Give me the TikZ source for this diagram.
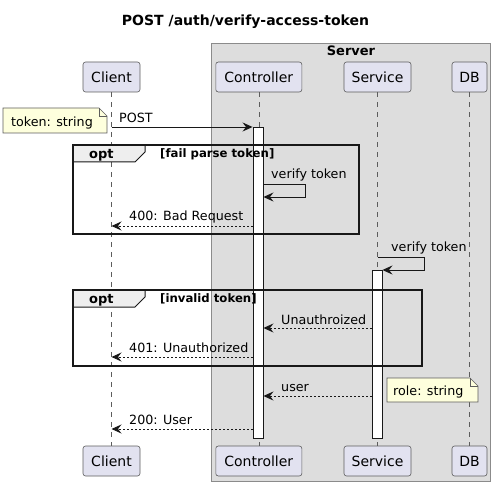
\documentclass[tikz,border=0pt]{standalone}
\usepackage{fontspec}
\setmainfont{DejaVu Sans}
\usetikzlibrary{arrows.meta}
\definecolor{partfill}{HTML}{E2E2F0}
\definecolor{notefill}{HTML}{FEFFDD}
\definecolor{boxfill}{HTML}{DDDDDD}
\definecolor{tabfill}{HTML}{EEEEEE}
\definecolor{ink}{HTML}{181818}
\begin{document}
\begin{tikzpicture}[x=1pt,y=-1pt,
 part/.style={draw=ink!70, fill=partfill, rounded corners=2.5pt, line width=0.6pt, minimum height=30pt, inner sep=0pt, font=\fontsize{14}{16}\selectfont},
 life/.style={draw=ink!70, line width=0.6pt, dash pattern=on 5pt off 5pt},
 act/.style={draw=ink, fill=white, line width=0.9pt, minimum width=10pt, inner sep=0pt, anchor=north},
 msg/.style={draw=ink, line width=0.9pt, -{Stealth[length=10pt,width=9pt,inset=3.5pt]}},
 ret/.style={msg, dash pattern=on 2pt off 2pt},
 lbl/.style={anchor=base west, inner sep=0pt, font=\fontsize{12.7}{15}\selectfont},
 frame/.style={draw=ink, line width=1.5pt},
 ftab/.style={draw=ink, fill=tabfill, line width=1pt},
 ftitle/.style={anchor=base west, inner sep=0pt, font=\bfseries\fontsize{13}{15}\selectfont},
 fcond/.style={anchor=base west, inner sep=0pt, font=\bfseries\fontsize{11.7}{13}\selectfont},
 notebox/.style={draw=ink!70, fill=notefill, line width=0.6pt}
]
\useasboundingbox (0,0) rectangle (495,486);
% title
\node[font=\bfseries\fontsize{14}{16}\selectfont] (title) at (245.5,22) {POST /auth/verify-access-token};
% server box
\draw[fill=boxfill, draw=ink!50, line width=0.6pt] (211.5,43.5) rectangle (490.5,481);
\node[font=\bfseries\fontsize{13}{15}\selectfont, anchor=base] (srv) at (351,56) {Server};
% participants
\node[part, minimum width=57pt] (pC) at (111.5,77) {Client};
\node[part, minimum width=86pt] (pCtl) at (258.8,77) {Controller};
\node[part, minimum width=67pt] (pS) at (377.5,77) {Service};
\node[part, minimum width=35pt] (pD) at (469.5,77) {DB};
\node[part, minimum width=57pt] (bC) at (111.5,461) {Client};
\node[part, minimum width=86pt] (bCtl) at (258.8,461) {Controller};
\node[part, minimum width=67pt] (bS) at (377.5,461) {Service};
\node[part, minimum width=35pt] (bD) at (469.5,461) {DB};
% lifelines
\draw[life] (pC.south) -- (bC.north);
\draw[life] (pCtl.south) -- (bCtl.north);
\draw[life] (pS.south) -- (bS.north);
\draw[life] (pD.south) -- (bD.north);
% activations
\node[act, minimum height=311pt] (aCtl) at (258,127) {};
\node[act, minimum height=168pt] (aS) at (377,270) {};
% frames
\draw[ftab] (73,145) -- (145,145) -- (145,152) -- (135,162) -- (73,162) -- cycle;
\draw[frame] (73,145) rectangle (359,234);
\node[ftitle] (f1t) at (89,159) {opt};
\node[fcond] (f1c) at (160,158) {[fail parse token]};
\draw[ftab] (73,290) -- (145,290) -- (145,297) -- (135,307) -- (73,307) -- cycle;
\draw[frame] (73,290) rectangle (422,366);
\node[ftitle] (f2t) at (89,303) {opt};
\node[fcond] (f2c) at (160,302.5) {[invalid token]};
% notes
\draw[notebox] (3,108) -- (99,108) -- (107,116) -- (107,133) -- (3,133) -- cycle;
\draw[draw=ink!70, line width=0.6pt] (99,108) -- (99,116) -- (107,116);
\node[lbl] (nTok) at (11,127) {token: string};
\draw[notebox] (387,378) -- (470,378) -- (478,386) -- (478,402) -- (387,402) -- cycle;
\draw[draw=ink!70, line width=0.6pt] (470,378) -- (470,386) -- (478,386);
\node[lbl] (nRole) at (393,395) {role: string};
% messages
\draw[msg] (pC |- 0,127) -- (aCtl.west |- 0,127);
\node[lbl] (l1) at (119,123) {POST};
\coordinate (s1) at (305,184);
\draw[msg] (aCtl.east |- 0,184) -- (s1) -- (s1 |- 0,197) -- (aCtl.east |- 0,197);
\node[lbl] (l2) at (271,179) {verify token};
\draw[ret] (aCtl.west |- 0,226) -- (pC |- 0,226);
\node[lbl] (l3) at (129,221) {400: Bad Request};
\coordinate (s2) at (424,257);
\draw[msg] (pS |- 0,257) -- (s2) -- (s2 |- 0,270) -- (aS.east |- 0,270);
\node[lbl] (l4) at (391,251.5) {verify token};
\draw[ret] (aS.west |- 0,328) -- (aCtl.east |- 0,328);
\node[lbl] (l5) at (281,324) {Unauthroized};
\draw[ret] (aCtl.west |- 0,357) -- (pC |- 0,357);
\node[lbl] (l6) at (129,352.5) {401: Unauthorized};
\draw[ret] (aS.west |- 0,396) -- (aCtl.east |- 0,396);
\node[lbl] (l7) at (281,391.5) {user};
\draw[ret] (aCtl.west |- 0,429) -- (pC |- 0,429);
\node[lbl] (l8) at (129,424.5) {200: User};
\end{tikzpicture}
\end{document}
